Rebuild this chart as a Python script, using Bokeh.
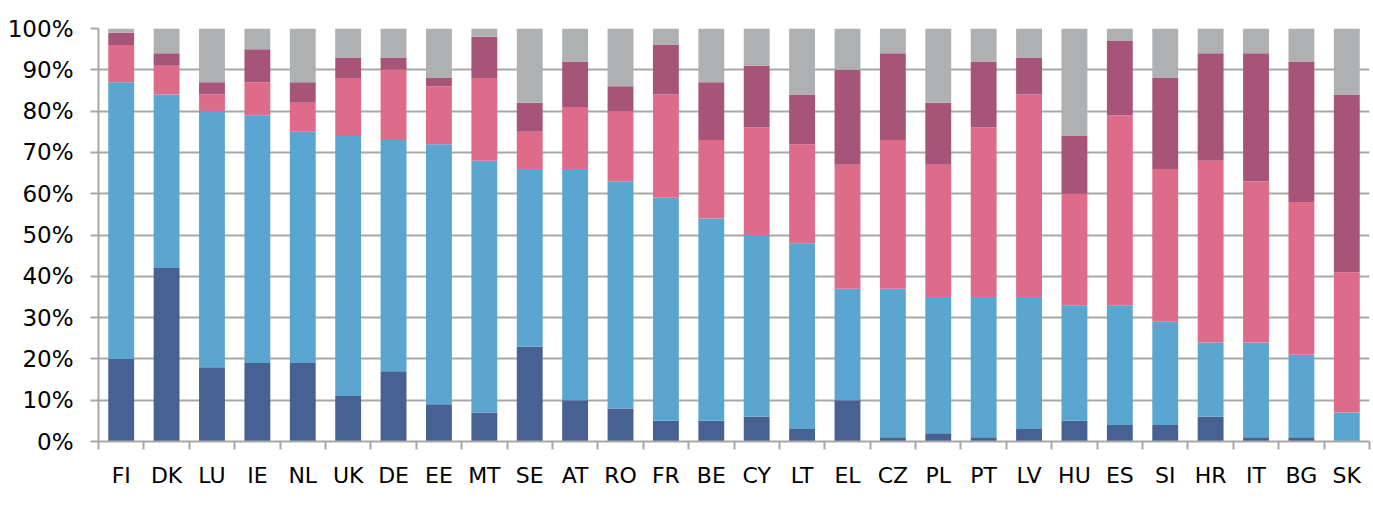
import numpy as np
from bokeh.plotting import figure
from bokeh.models import ColumnDataSource, Range1d, FixedTicker, PrintfTickFormatter, CustomJSTickFormatter
from bokeh.embed import file_html
from bokeh.resources import INLINE

countries = ["FI", "DK", "LU", "IE", "NL", "UK", "DE", "EE", "MT", "SE", "AT", "RO", "FR", "BE",
             "CY", "LT", "EL", "CZ", "PL", "PT", "LV", "HU", "ES", "SI", "HR", "IT", "BG", "SK"]

# shares in percent, bottom to top
series_1 = [20, 42, 18, 19, 19, 11, 17, 9, 7, 23, 10, 8, 5, 5, 6, 3, 10, 1, 2, 1, 3, 5, 4, 4, 6, 1, 1, 0]
series_2 = [67, 42, 62, 60, 56, 63, 56, 63, 61, 43, 56, 55, 54, 49, 44, 45, 27, 36, 33, 34, 32, 28, 29, 25, 18, 23, 20, 7]
series_3 = [9, 7, 4, 8, 7, 14, 17, 14, 20, 9, 15, 17, 25, 19, 26, 24, 30, 36, 32, 41, 49, 27, 46, 37, 44, 39, 37, 34]
series_4 = [3, 3, 3, 8, 5, 5, 3, 2, 10, 7, 11, 6, 12, 14, 15, 12, 23, 21, 15, 16, 9, 14, 18, 22, 26, 31, 34, 43]
series_5 = [1, 6, 13, 5, 13, 7, 7, 12, 2, 18, 8, 14, 4, 13, 9, 16, 10, 6, 18, 8, 7, 26, 3, 12, 6, 6, 8, 16]

keys = ["series_1", "series_2", "series_3", "series_4", "series_5"]
colors = ["#476192", "#5AA6D0", "#DF6B8A", "#A65578", "#AFB0B2"]
grid_col = "#A8A8A8"

n = len(countries)
xpos = [i + 0.5 for i in range(n)]
source = ColumnDataSource(dict(x=xpos, series_1=series_1, series_2=series_2, series_3=series_3,
                               series_4=series_4, series_5=series_5))

p = figure(width=1371, height=514, output_backend="svg", toolbar_location=None,
           x_range=Range1d(0, n), y_range=Range1d(0, 100),
           min_border_left=98, min_border_right=2, min_border_top=28, min_border_bottom=73)
p.outline_line_color = None
p.background_fill_color = "white"
p.border_fill_color = "white"

p.vbar_stack(keys, x="x", width=0.57, fill_color=colors, line_color=None, source=source)

p.xgrid.visible = False
p.ygrid.grid_line_color = grid_col
p.ygrid.grid_line_width = 2
p.ygrid.ticker = FixedTicker(ticks=list(range(0, 101, 10)))

# x axis
xa = p.xaxis[0]
xa.ticker = FixedTicker(ticks=xpos, minor_ticks=list(range(0, n + 1)))
xa.formatter = CustomJSTickFormatter(args=dict(names=countries),
                                     code="const i = Math.floor(tick); return names[i] || '';")
xa.major_tick_out = 0
xa.major_tick_in = 0
xa.minor_tick_out = 8
xa.minor_tick_in = 0
xa.minor_tick_line_color = grid_col
xa.minor_tick_line_width = 2
xa.axis_line_color = grid_col
xa.axis_line_width = 2
xa.major_label_text_font = "DejaVu Sans"
xa.major_label_text_font_size = "22px"
xa.major_label_text_color = "black"
xa.major_label_standoff = 13

# y axis
ya = p.yaxis[0]
ya.ticker = FixedTicker(ticks=list(range(0, 101, 10)))
ya.formatter = PrintfTickFormatter(format="%d%%")
ya.major_tick_out = 8
ya.major_tick_in = 0
ya.minor_tick_out = 0
ya.minor_tick_in = 0
ya.major_tick_line_color = grid_col
ya.major_tick_line_width = 2
ya.axis_line_color = grid_col
ya.axis_line_width = 2
ya.major_label_text_font = "DejaVu Sans"
ya.major_label_text_font_size = "23px"
ya.major_label_text_color = "black"
ya.major_label_standoff = 17

open("out.html", "w").write(file_html(p, INLINE))
